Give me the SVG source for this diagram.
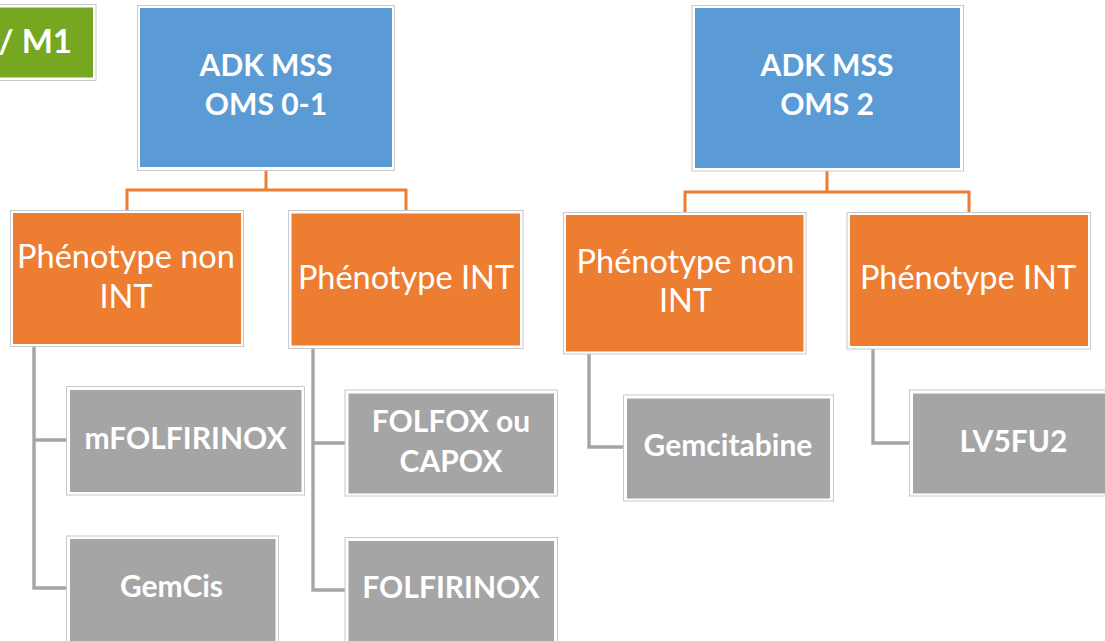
<svg xmlns="http://www.w3.org/2000/svg" width="1105" height="641" viewBox="0 0 1105 641">
  <style>
    .frame { fill: #ffffff; stroke: #c8c8c8; stroke-width: 1; }
    .blue { fill: #5b9bd5; }
    .orange { fill: #ed7d31; }
    .gray { fill: #a5a5a5; }
    .green { fill: #76a720; }
    .t { fill: #ffffff; font-family: Lato, "Open Sans", "Liberation Sans", sans-serif; text-anchor: middle; }
    .b { font-weight: bold; font-size: 30px; }
    .r { font-weight: normal; font-size: 32.5px; }
    .c-or { fill: none; stroke: #ed7d31; stroke-width: 3; }
    .c-gr { fill: none; stroke: #a5a5a5; stroke-width: 3.4; }
  </style>

  <rect width="1105" height="641" fill="#ffffff"/>

  <!-- connectors -->
  <g id="connectors">
    <path class="c-or" d="M266,170 V190 M127,211 V190 H406 V211"/>
    <path class="c-or" d="M827,171 V192 M685,212 V192 H969 V212"/>
    <path class="c-gr" d="M34,346 V588 H67 M34,440 H67"/>
    <path class="c-gr" d="M313,348 V590 H345 M313,443 H345"/>
    <path class="c-gr" d="M589,354 V447 H623"/>
    <path class="c-gr" d="M873,349 V443 H909"/>
  </g>

  <!-- stage label -->
  <g id="stage">
    <rect class="frame" x="-10" y="4.5" width="106" height="76"/>
    <rect class="green" x="-10" y="7.5" width="103" height="70"/>
    <text class="t b" x="72" y="53" style="text-anchor: end; font-size: 33px">/ M1</text>
  </g>

  <!-- ADK MSS OMS 0-1 -->
  <g id="adk-oms01">
    <rect class="frame" x="137.5" y="5.5" width="257" height="165"/>
    <rect class="blue" x="140" y="8" width="252" height="159"/>
    <text class="t b" x="266" y="76">ADK MSS</text>
    <text class="t b" x="266" y="115">OMS 0-1</text>
  </g>

  <g id="pheno-non-int-1">
    <rect class="frame" x="10.5" y="210.5" width="233" height="136"/>
    <rect class="orange" x="13" y="213" width="228" height="131"/>
    <text class="t r" x="126" y="268">Phénotype non</text>
    <text class="t r" x="126" y="308">INT</text>
  </g>

  <g id="pheno-int-1">
    <rect class="frame" x="288.5" y="210.5" width="234.5" height="138"/>
    <rect class="orange" x="291.5" y="213.5" width="228.5" height="132"/>
    <text class="t r" x="406" y="289">Phénotype INT</text>
  </g>

  <g id="mfolfirinox">
    <rect class="frame" x="66.5" y="386.5" width="238" height="108.5"/>
    <rect class="gray" x="70" y="390" width="231.5" height="102"/>
    <text class="t b" x="185.5" y="449">mFOLFIRINOX</text>
  </g>

  <g id="gemcis">
    <rect class="frame" x="66.5" y="536" width="212" height="120"/>
    <rect class="gray" x="70" y="539" width="205.5" height="114"/>
    <text class="t b" x="171.5" y="597">GemCis</text>
  </g>

  <g id="folfox-capox">
    <rect class="frame" x="345" y="390" width="212.5" height="106"/>
    <rect class="gray" x="348.5" y="393.5" width="205.5" height="100"/>
    <text class="t b" x="451" y="432">FOLFOX ou</text>
    <text class="t b" x="451" y="472">CAPOX</text>
  </g>

  <g id="folfirinox">
    <rect class="frame" x="345" y="537.5" width="212.5" height="120"/>
    <rect class="gray" x="348.5" y="541" width="205.5" height="114"/>
    <text class="t b" x="451" y="598">FOLFIRINOX</text>
  </g>

  <!-- ADK MSS OMS 2 -->
  <g id="adk-oms2">
    <rect class="frame" x="692" y="5.5" width="271.5" height="165.5"/>
    <rect class="blue" x="695" y="8" width="265" height="160"/>
    <text class="t b" x="827" y="76">ADK MSS</text>
    <text class="t b" x="827" y="115">OMS 2</text>
  </g>

  <g id="pheno-non-int-2">
    <rect class="frame" x="563.5" y="212.5" width="242.5" height="141.5"/>
    <rect class="orange" x="566" y="215" width="237.5" height="136.5"/>
    <text class="t r" x="685.5" y="273">Phénotype non</text>
    <text class="t r" x="685.5" y="312">INT</text>
  </g>

  <g id="pheno-int-2">
    <rect class="frame" x="847" y="212.5" width="243.5" height="136.5"/>
    <rect class="orange" x="850" y="215" width="238" height="131"/>
    <text class="t r" x="968" y="289">Phénotype INT</text>
  </g>

  <g id="gemcitabine">
    <rect class="frame" x="623.5" y="395" width="210" height="106"/>
    <rect class="gray" x="627" y="398.5" width="203" height="100"/>
    <text class="t b" x="728" y="456">Gemcitabine</text>
  </g>

  <g id="lv5fu2">
    <rect class="frame" x="909.5" y="390" width="210" height="106"/>
    <rect class="gray" x="913" y="393.5" width="203" height="100"/>
    <text class="t b" x="1013.5" y="452">LV5FU2</text>
  </g>
</svg>
